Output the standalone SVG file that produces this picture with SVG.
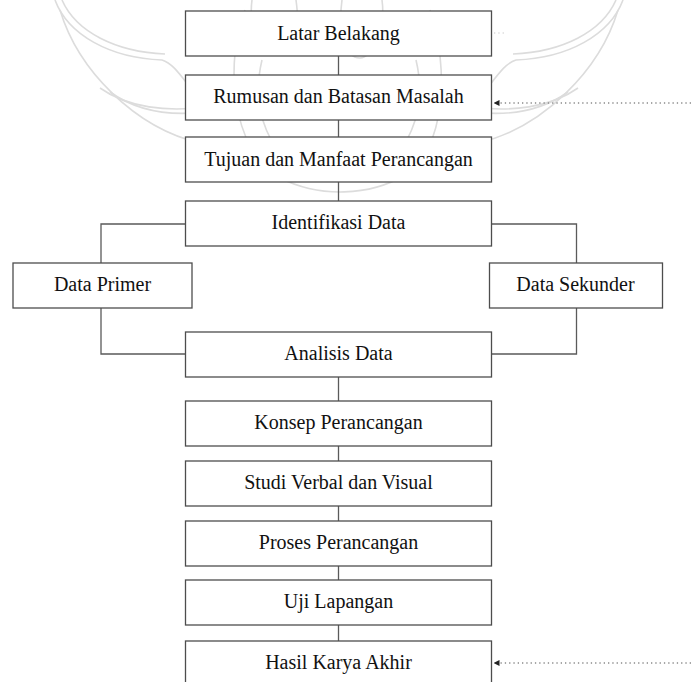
<svg xmlns="http://www.w3.org/2000/svg" width="691" height="682" viewBox="0 0 691 682">
  <defs>
    <style>
      .box { fill: #ffffff; stroke: #4d4d4d; stroke-width: 1.3; }
      .lbl { font-family: "Liberation Serif", "Times New Roman", serif; font-size: 20px; fill: #111111; text-anchor: middle; }
      .con { fill: none; stroke: #5a5a5a; stroke-width: 1.3; }
      .dot { fill: none; stroke: #8a8a8a; stroke-width: 1.3; stroke-dasharray: 1.3 3; }
      .wm { fill: none; stroke: #dcdcdc; stroke-width: 1.6; }
    </style>
    <marker id="ah" viewBox="0 0 6 6" refX="5.5" refY="3" markerWidth="6" markerHeight="6" markerUnits="userSpaceOnUse" orient="auto">
      <path d="M0,0 L6,3 L0,6 Z" fill="#222"/>
    </marker>
  </defs>
  <rect width="691" height="682" fill="#ffffff"/>

  <g id="watermark">
    <path class="wm" d="M55,0 C68,35 110,58 162,60 C176,64 186,85 205,105"/>
    <path class="wm" d="M62,0 C76,32 116,52 165,54"/>
    <path class="wm" d="M60,10 C78,70 135,128 200,143"/>
    <path class="wm" d="M100,88 C128,108 168,112 205,107"/>
    <path class="wm" d="M110,92 C138,112 172,116 205,112"/>
    <path class="wm" d="M623,0 C610,35 568,58 516,60 C502,64 492,85 473,105"/>
    <path class="wm" d="M616,0 C602,32 562,52 513,54"/>
    <path class="wm" d="M618,10 C600,70 543,128 478,143"/>
    <path class="wm" d="M578,88 C550,108 510,112 473,107"/>
    <path class="wm" d="M568,92 C540,112 506,116 473,112"/>
    <path class="wm" d="M252,0 C248,30 262,55 280,55 C298,55 300,30 296,0"/>
    <path class="wm" d="M382,0 C386,30 372,58 360,58 C344,58 338,30 342,0"/>
    <path class="wm" d="M245,10 C225,60 230,150 280,178 C320,198 370,196 405,175 C445,150 450,70 430,10"/>
    <path class="wm" d="M262,60 C250,110 270,160 310,172 M416,60 C428,110 408,160 368,172"/>
  </g>

  <g id="connectors">
    <path class="con" d="M338.5,56 V75 M338.5,120 V137 M338.5,182 V201 M338.5,377 V401 M338.5,446 V461 M338.5,506 V521 M338.5,566 V580 M338.5,625 V641"/>
    <path class="con" d="M185.5,224 H101 V263 M101,308 V354 H185.5"/>
    <path class="con" d="M491.5,224 H576.5 V263 M576.5,308 V354 H491.5"/>
    <path class="dot" d="M691,103 H494" marker-end="url(#ah)"/>
    <path class="dot" d="M691,663 H494" marker-end="url(#ah)"/>
    <path d="M494,33 H506" fill="none" stroke="#c8c8c8" stroke-width="1.2" stroke-dasharray="1.3 3"/>
  </g>

  <g id="latar"><rect class="box" x="185.5" y="11" width="306" height="45"/><text class="lbl" x="338.5" y="40">Latar Belakang</text></g>
  <g id="rumusan"><rect class="box" x="185.5" y="75" width="306" height="45"/><text class="lbl" x="338.5" y="103">Rumusan dan Batasan Masalah</text></g>
  <g id="tujuan"><rect class="box" x="185.5" y="137" width="306" height="45"/><text class="lbl" x="338.5" y="166">Tujuan dan Manfaat Perancangan</text></g>
  <g id="identifikasi"><rect class="box" x="185.5" y="201" width="306" height="45"/><text class="lbl" x="338.5" y="229">Identifikasi Data</text></g>
  <g id="primer"><rect class="box" x="13" y="263" width="179" height="45"/><text class="lbl" x="102.5" y="291">Data Primer</text></g>
  <g id="sekunder"><rect class="box" x="489.5" y="263" width="173" height="45"/><text class="lbl" x="575.5" y="291">Data Sekunder</text></g>
  <g id="analisis"><rect class="box" x="185.5" y="332" width="306" height="45"/><text class="lbl" x="338.5" y="360">Analisis Data</text></g>
  <g id="konsep"><rect class="box" x="185.5" y="401" width="306" height="45"/><text class="lbl" x="338.5" y="429">Konsep Perancangan</text></g>
  <g id="studi"><rect class="box" x="185.5" y="461" width="306" height="45"/><text class="lbl" x="338.5" y="489">Studi Verbal dan Visual</text></g>
  <g id="proses"><rect class="box" x="185.5" y="521" width="306" height="45"/><text class="lbl" x="338.5" y="549">Proses Perancangan</text></g>
  <g id="uji"><rect class="box" x="185.5" y="580" width="306" height="45"/><text class="lbl" x="338.5" y="608">Uji Lapangan</text></g>
  <g id="hasil"><rect class="box" x="185.5" y="641" width="306" height="45"/><text class="lbl" x="338.5" y="669">Hasil Karya Akhir</text></g>
</svg>
